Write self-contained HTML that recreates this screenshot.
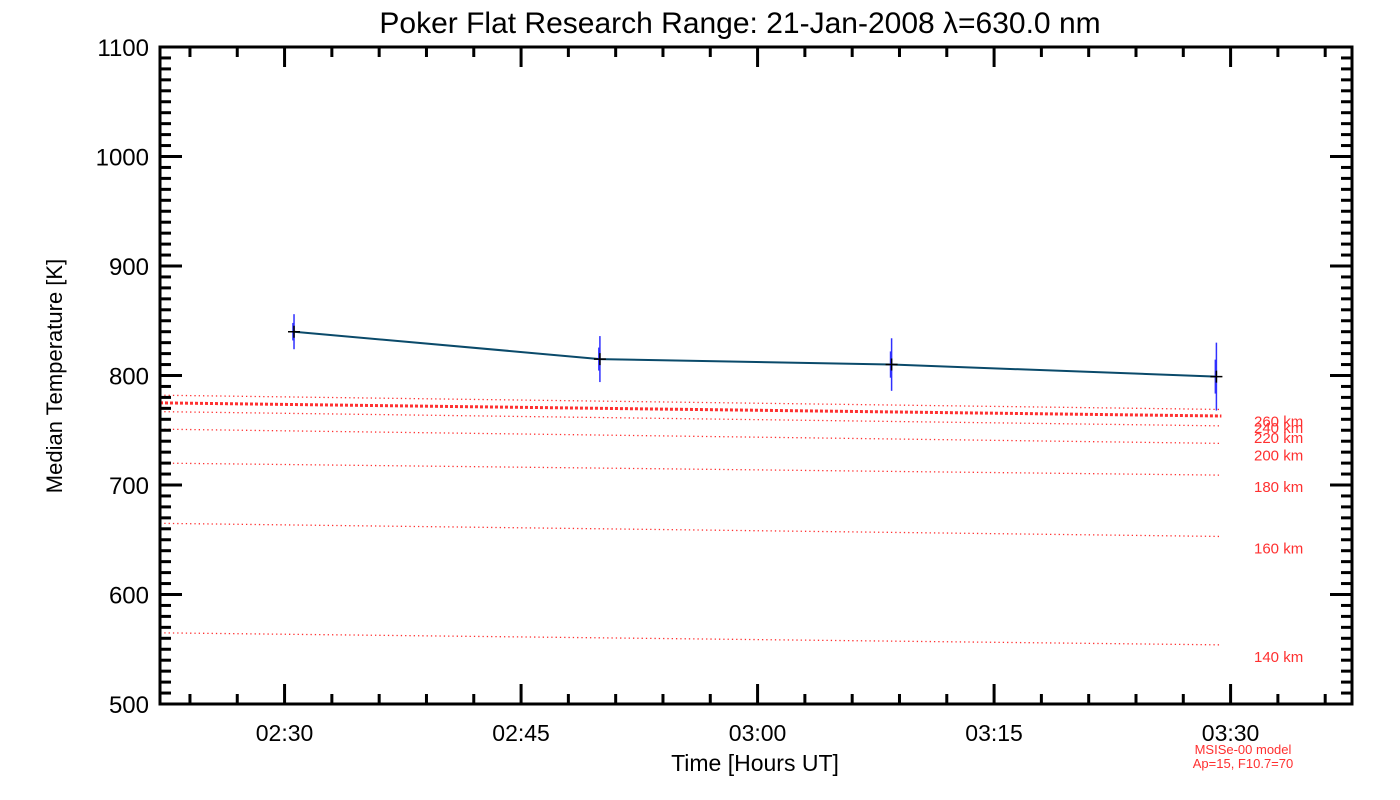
<!DOCTYPE html>
<html><head><meta charset="utf-8"><style>
html,body{margin:0;padding:0;background:#fff;}
svg{display:block;font-family:"Liberation Sans",sans-serif;}
</style></head><body>
<svg id="chart" width="1400" height="800" viewBox="0 0 1400 800">
<text x="740" y="33" font-size="30" text-anchor="middle" fill="#000">Poker Flat Research Range: 21-Jan-2008 λ=630.0 nm</text>
<g id="grid"></g>
<g id="model"></g>
<g id="series"></g>
<rect x="160" y="47" width="1192" height="657" fill="none" stroke="#000" stroke-width="3"/>
<g id="axes"></g>
<text x="62" y="376" font-size="22" text-anchor="middle" transform="rotate(-90 62 376)">Median Temperature [K]</text>
<text x="755" y="771" font-size="23" text-anchor="middle">Time [Hours UT]</text>
<text x="1243" y="754" font-size="13" text-anchor="middle" fill="#ff3030">MSISe-00 model</text>
<text x="1243" y="768" font-size="13" text-anchor="middle" fill="#ff3030">Ap=15, F10.7=70</text>
</svg>
<script>
const yTicks=[500,600,700,800,900,1000,1100];
const xTickLabels=["02:30","02:45","03:00","03:15","03:30"];
const obsTimes=[150.6,170.0,188.5,209.1]; // minutes after 00:00 UT
const obsTemps=[840,815,810,799];
const obsErr=[16,21,24,31];
const altitudes=[260,240,220,200,180,160,140];
const modelStart=[782,775,767,751,720,665,565];
const modelEnd=[769,763,754,738,709,653,554];

const NS="http://www.w3.org/2000/svg";
const X0=160,X1=1352,Y0=704,Y1=47;
const tMin=142.1,tMax=217.7,vMin=500,vMax=1100;
const xs=t=>X0+(t-tMin)/(tMax-tMin)*(X1-X0);
const ys=v=>Y0-(v-vMin)/(vMax-vMin)*(Y0-Y1);
function mk(tag,attrs,parent){const e=document.createElementNS(NS,tag);for(const k in attrs)e.setAttribute(k,attrs[k]);parent.appendChild(e);return e;}
const axes=document.getElementById('axes'),model=document.getElementById('model'),series=document.getElementById('series');

for(let v=vMin;v<=vMax;v+=10){
  const major=(v%100===0);const L=major?22:11;const y=ys(v);
  const a=mk('line',{x1:X0,x2:X0+L,y1:y,y2:y,stroke:'#000','stroke-width':3},axes);
  
  
  const b=mk('line',{x1:X1,x2:X1-L,y1:y,y2:y,stroke:'#000','stroke-width':3},axes);
  
  
}
yTicks.forEach(v=>{
  const t=mk('text',{x:149,y:ys(v)+9,'font-size':24,'text-anchor':'end'},axes);t.textContent=v;
  
  
});
for(let m=Math.ceil(tMin/3)*3;m<=tMax;m+=3){
  const major=(m%15===0);const L=major?20:10;const x=xs(m);
  const a=mk('line',{x1:x,x2:x,y1:Y0,y2:Y0-L,stroke:'#000','stroke-width':3},axes);
  
  
  const b=mk('line',{x1:x,x2:x,y1:Y1,y2:Y1+L,stroke:'#000','stroke-width':3},axes);
  
  
}
xTickLabels.forEach(s=>{
  const p=s.split(':');const m=+p[0]*60+ +p[1];
  const t=mk('text',{x:xs(m),y:741,'font-size':23,'text-anchor':'middle'},axes);t.textContent=s;
  
  
});
altitudes.forEach((a,i)=>{
  const thick=(a===240);
  const l=mk('line',{x1:X0,x2:xs(obsTimes[3])+5,y1:ys(modelStart[i]),y2:ys(modelEnd[i]),stroke:'#ff3030','stroke-width':thick?3:1.3,'stroke-dasharray':thick?'3 2':'1.3 3'},model);
  
  
  const t=mk('text',{x:1254,y:ys(modelEnd[i])+17,'font-size':15,fill:'#ff3030'},model);t.textContent=a+' km';
  
  
});
const pl=mk('polyline',{points:obsTimes.map((t,i)=>xs(t)+','+ys(obsTemps[i])).join(' '),fill:'none',stroke:'#0a4a6a','stroke-width':2},series);


obsTimes.forEach((t,i)=>{
  const x=xs(t),y=ys(obsTemps[i]);
  const e=mk('line',{x1:x,x2:x,y1:ys(obsTemps[i]+obsErr[i]),y2:ys(obsTemps[i]-obsErr[i]),stroke:'#3030ff','stroke-width':1.5},series);
  
  
  const e2=mk('line',{x1:x-0.8,x2:x-0.8,y1:ys(obsTemps[i]+obsErr[i]/2),y2:ys(obsTemps[i]-obsErr[i]/2),stroke:'#3030ff','stroke-width':2},series);
  
  
  const p=mk('path',{d:`M${x-6},${y}H${x+6}M${x},${y-6}V${y+6}`,stroke:'#000','stroke-width':1.5},series);
  
  
});
</script>
</body></html>
